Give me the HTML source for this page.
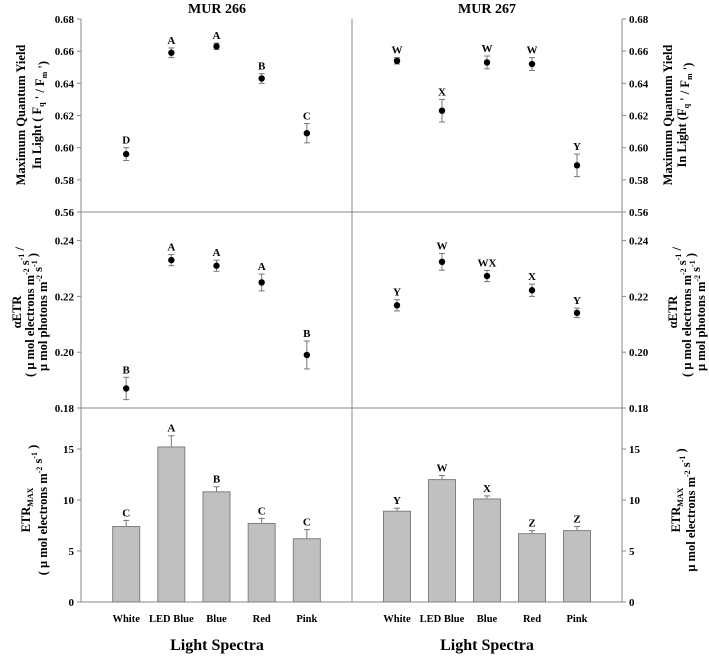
<!DOCTYPE html>
<html><head><meta charset="utf-8"><style>
body{margin:0;background:#fff}
svg{display:block;font-family:"Liberation Serif",serif;font-weight:bold}
</style></head><body>
<svg id="c" width="709" height="656" xmlns="http://www.w3.org/2000/svg"></svg>
<script>
const categories=["White","LED Blue","Blue","Red","Pink"];
const yieldL=[0.596,0.659,0.663,0.643,0.609];
const yieldLErr=[0.004,0.003,0.002,0.003,0.006];
const yieldLLetters=["D","A","A","B","C"];
const yieldR=[0.654,0.623,0.653,0.652,0.589];
const yieldRErr=[0.002,0.007,0.004,0.004,0.007];
const yieldRLetters=["W","X","W","W","Y"];
const etrL=[0.187,0.233,0.231,0.225,0.199];
const etrLErr=[0.004,0.002,0.002,0.003,0.005];
const etrLLetters=["B","A","A","A","B"];
const etrR=[0.2168,0.2324,0.2273,0.2222,0.2141];
const etrRErr=[0.002,0.003,0.002,0.0022,0.0017];
const etrRLetters=["Y","W","WX","X","Y"];
const maxL=[7.4,15.2,10.8,7.7,6.2];
const maxLErr=[0.6,1.1,0.5,0.5,0.9];
const maxLLetters=["C","A","B","C","C"];
const maxR=[8.9,12.0,10.1,6.7,7.0];
const maxRErr=[0.3,0.4,0.3,0.3,0.4];
const maxRLetters=["Y","W","X","Z","Z"];
const yieldTicks=[0.56,0.58,0.60,0.62,0.64,0.66,0.68];
const etrTicks=[0.18,0.20,0.22,0.24];
const maxTicks=[0,5,10,15];

const NS="http://www.w3.org/2000/svg";
const svg=document.getElementById('c');
function el(t,a,txt){const e=document.createElementNS(NS,t);for(const k in a)e.setAttribute(k,a[k]);if(txt!=null)e.textContent=txt;svg.appendChild(e);return e;}
const XL=81,XM=352,XR=622;
const rows=[{top:19,bot:212,y0:0.56,y1:0.68},{top:212,bot:408,y0:0.18,y1:0.18+196/2790},{top:408,bot:602,y0:0,y1:194/10.2}];
function yS(r,v){const R=rows[r];return R.bot-(v-R.y0)/(R.y1-R.y0)*(R.bot-R.top);}
function xS(panel,i){const a=panel?XM:XL,b=panel?XR:XM;return a+(b-a)*(i+1)/6;}

let e;
e=el('line',{x1:XL,y1:19,x2:XL,y2:602,stroke:'#888'});
e=el('line',{x1:XR,y1:19,x2:XR,y2:602,stroke:'#888'});
e=el('line',{x1:XM,y1:19,x2:XM,y2:602,stroke:'#888'});
[212,408,602].forEach(y=>{e=el('line',{x1:XL,y1:y,x2:XR,y2:y,stroke:'#888'});});

function ticks(r,arr,fmt){arr.forEach(v=>{const y=yS(r,v);
 el('line',{x1:XL-4,y1:y,x2:XL,y2:y,stroke:'#888'});
 el('line',{x1:XR,y1:y,x2:XR+4,y2:y,stroke:'#888'});
 e=el('text',{x:XL-7,y:y+4,'text-anchor':'end','font-size':11},fmt(v));
 e=el('text',{x:XR+7,y:y+4,'font-size':11},fmt(v));});}
ticks(0,yieldTicks,v=>v.toFixed(2));
ticks(1,etrTicks,v=>v.toFixed(2));
ticks(2,maxTicks,v=>String(v));

function points(r,panel,vals,errs,lets){vals.forEach((v,i)=>{const x=xS(panel,i),y=yS(r,v),yt=yS(r,v+errs[i]),yb=yS(r,v-errs[i]);
 el('line',{x1:x,y1:yt,x2:x,y2:yb,stroke:'#777'});
 el('line',{x1:x-3,y1:yt,x2:x+3,y2:yt,stroke:'#777'});
 el('line',{x1:x-3,y1:yb,x2:x+3,y2:yb,stroke:'#777'});
 e=el('circle',{cx:x,cy:y,r:3.2,fill:'#000'});
 e=el('text',{x:x,y:yt-4,'text-anchor':'middle','font-size':11},lets[i]);});}
function bars(r,panel,vals,errs,lets){vals.forEach((v,i)=>{const x=xS(panel,i),y=yS(r,v),y0=yS(r,0),yt=yS(r,v+errs[i]);
 el('line',{x1:x,y1:y,x2:x,y2:yt,stroke:'#777'});
 el('line',{x1:x-3,y1:yt,x2:x+3,y2:yt,stroke:'#777'});
 e=el('rect',{x:x-13.5,y:y,width:27,height:y0-y,fill:'#c0c0c0',stroke:'#808080'});
 e=el('text',{x:x,y:yt-4,'text-anchor':'middle','font-size':11},lets[i]);});}
points(0,0,yieldL,yieldLErr,yieldLLetters);
points(0,1,yieldR,yieldRErr,yieldRLetters);
points(1,0,etrL,etrLErr,etrLLetters);
points(1,1,etrR,etrRErr,etrRLetters);
bars(2,0,maxL,maxLErr,maxLLetters);
bars(2,1,maxR,maxRErr,maxRLetters);

categories.forEach((c,i)=>{[0,1].forEach(p=>{e=el('text',{x:xS(p,i),y:622,'text-anchor':'middle','font-size':10.5},c);});});
e=el('text',{x:217,y:650,'text-anchor':'middle','font-size':16},'Light Spectra');
e=el('text',{x:487,y:650,'text-anchor':'middle','font-size':16},'Light Spectra');
e=el('text',{x:217,y:13,'text-anchor':'middle','font-size':14},'MUR 266');
e=el('text',{x:487,y:13,'text-anchor':'middle','font-size':14},'MUR 267');

function vtitle(x,cy,gap,lines,name){const g=document.createElementNS(NS,'g');g.setAttribute('transform','translate('+x+','+cy+') rotate(-90)');


svg.appendChild(g);lines.forEach((h,k)=>{const t=document.createElementNS(NS,'text');t.setAttribute('x',0);t.setAttribute('y',k*gap);t.setAttribute('text-anchor','middle');t.setAttribute('font-size',12.5);t.innerHTML=h;g.appendChild(t);});}
const sub=(s)=>'<tspan font-size="8" dy="3">'+s+'</tspan><tspan dy="-3"></tspan>';
const sup=(s)=>'<tspan font-size="8" dy="-5">'+s+'</tspan><tspan dy="5"></tspan>';
vtitle(25,115,16,['Maximum Quantum Yield','In Light ( F'+sub('q')+' \' / F'+sub('m')+' \')'],'y-axis-title-yield');
vtitle(672,115,14,['Maximum Quantum Yield','In Light (F'+sub('q')+' \' / F'+sub('m')+' \')'],'y-axis-title-yield-right');
vtitle(21,312,13,['αETR','( μ mol electrons m'+sup('-2')+' s'+sup('-1')+' /','μ mol photons m'+sup('-2')+' s'+sup('-1')+' )'],'y-axis-title-alpha');
vtitle(677,312,14,['αETR','( μ mol electrons m'+sup('-2')+' s'+sup('-1')+' /','μ mol photons m'+sup('-2')+' s'+sup('-1')+' )'],'y-axis-title-alpha-right');
vtitle(30,510,17,['ETR'+sub('MAX'),'( μ mol electrons m'+sup('-2')+' s'+sup('-1')+' )'],'y-axis-title-etrmax');
vtitle(680,510,15,['ETR'+sub('MAX'),'μ mol electrons m'+sup('-2')+' s'+sup('-1')+' )'],'y-axis-title-etrmax-right');
</script>
</body></html>
